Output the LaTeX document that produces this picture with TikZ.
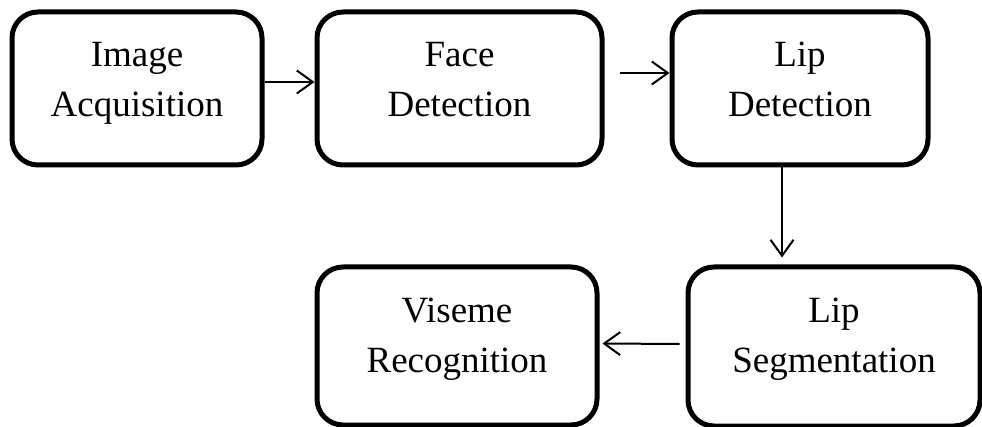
\documentclass[tikz,border=0pt]{standalone}
\usepackage{fontspec}
\setmainfont{Liberation Serif}
\usetikzlibrary{arrows.meta}
% two centred lines with fixed room above the first and below the last
\newcommand{\stagetext}[4]{\rule{0pt}{#3pt}#1\\#2\rule[-#4pt]{0pt}{#4pt}}
\begin{document}
\begin{tikzpicture}[x=1pt,y=-1pt,
  stagebox/.style={draw=black, line width=5pt, rounded corners=26pt,
    align=center, inner sep=0pt,
    font=\fontsize{37}{50}\selectfont},
  flow/.style={line width=2pt,
    -{Straight Barb[length=16pt,width=23pt,line width=2pt]}}]
  \useasboundingbox (0,0) rectangle (982,427);
  % processing stages
  \node[stagebox, minimum width=250pt, minimum height=153pt] (acq) at (137,88.5) {\stagetext{Image}{Acquisition}{30}{23}};
  \node[stagebox, minimum width=285pt, minimum height=153pt] (face) at (459.5,88.5) {\stagetext{Face}{Detection}{30}{23}};
  \node[stagebox, minimum width=256pt, minimum height=153pt] (lipdet) at (800,88.5) {\stagetext{Lip}{Detection}{30}{23}};
  \node[stagebox, minimum width=292pt, minimum height=159pt] (lipseg) at (834,346.5) {\stagetext{Lip}{Segmentation}{30}{28}};
  \node[stagebox, minimum width=280pt, minimum height=158pt] (vis) at (457,346) {\stagetext{Viseme}{Recognition}{30}{28}};
  % flow between stages
  \draw[flow] ([yshift=6.5pt]acq.east) -- ([yshift=6.5pt]face.west);
  \draw[flow] ([shift={(15pt,15.5pt)}]face.east) -- ([yshift=15.5pt]lipdet.west);
  \draw[flow] ([xshift=-18pt]lipdet.south) -- ([shift={(-52pt,7pt)}]lipseg.north);
  \draw[flow] ([shift={(-6pt,2.5pt)}]lipseg.west) -- ([shift={(3pt,2.5pt)}]vis.east);
\end{tikzpicture}
\end{document}
